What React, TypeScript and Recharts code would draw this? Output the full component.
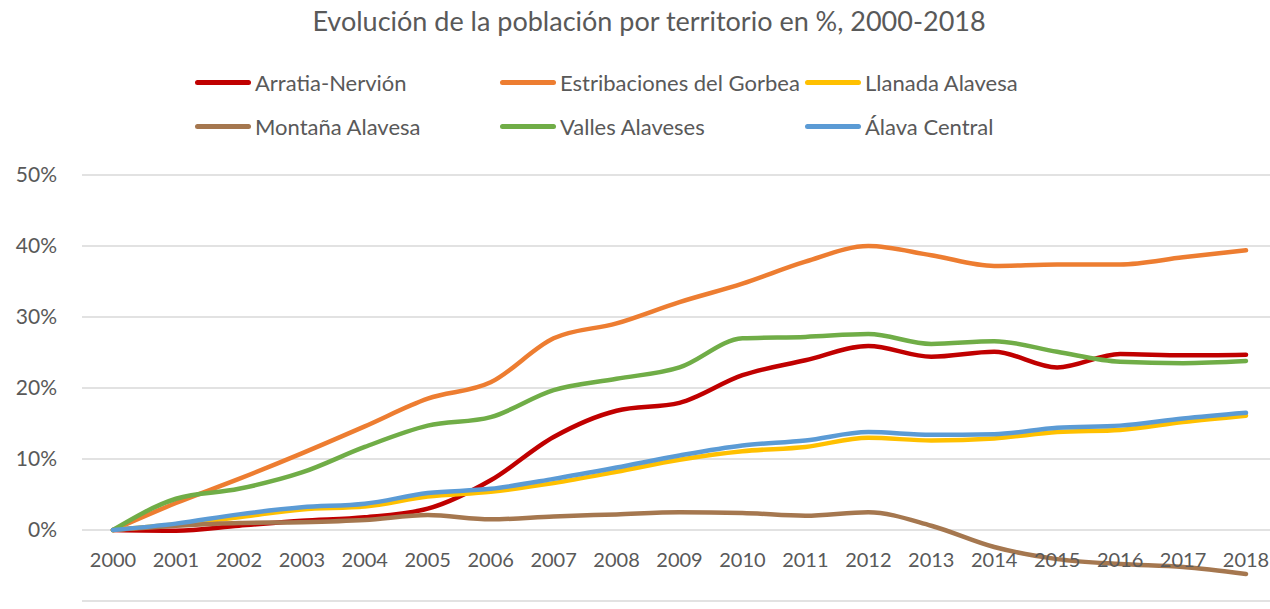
import React from "react";
import { LineChart, Line, XAxis, YAxis, CartesianGrid, Legend } from "recharts";

const years = ["2000","2001","2002","2003","2004","2005","2006","2007","2008","2009","2010","2011","2012","2013","2014","2015","2016","2017","2018"];
const arratia = [0, -0.1, 0.6, 1.3, 1.8, 3.0, 7.0, 13.1, 16.8, 17.9, 21.8, 23.9, 25.9, 24.4, 25.1, 22.9, 24.8, 24.6, 24.7];
const gorbea = [0, 3.8, 7.2, 10.8, 14.6, 18.5, 20.8, 27.0, 29.1, 32.1, 34.7, 37.8, 40.0, 38.7, 37.2, 37.4, 37.4, 38.4, 39.4];
const llanada = [0, 0.8, 1.8, 2.9, 3.3, 4.7, 5.4, 6.6, 8.2, 9.9, 11.1, 11.7, 13.0, 12.6, 12.9, 13.8, 14.1, 15.2, 16.1];
const montana = [0, 0.6, 1.0, 1.1, 1.4, 2.1, 1.5, 1.9, 2.2, 2.5, 2.4, 2.0, 2.5, 0.6, -2.4, -4.1, -4.8, -5.2, -6.2];
const valles = [0, 4.4, 5.8, 8.1, 11.7, 14.7, 15.9, 19.7, 21.3, 22.9, 27.0, 27.2, 27.6, 26.2, 26.6, 25.1, 23.7, 23.5, 23.8];
const alava = [0, 0.9, 2.2, 3.2, 3.7, 5.2, 5.8, 7.2, 8.8, 10.5, 11.9, 12.6, 13.8, 13.4, 13.5, 14.4, 14.7, 15.7, 16.5];
const yTicks = [-10, 0, 10, 20, 30, 40, 50];

const seriesNames = ["Arratia-Nervión", "Estribaciones del Gorbea", "Llanada Alavesa", "Montaña Alavesa", "Valles Alaveses", "Álava Central"];
const seriesKeys = ["arratia", "gorbea", "llanada", "montana", "valles", "alava"];
const seriesColors = ["#C00000", "#ED7D31", "#FFC000", "#A5774F", "#70AD47", "#5B9BD5"];

const data = years.map((y, i) => ({
  year: y,
  arratia: arratia[i],
  gorbea: gorbea[i],
  llanada: llanada[i],
  montana: montana[i],
  valles: valles[i],
  alava: alava[i],
}));

const FONT = "Lato, 'Open Sans', sans-serif";
const TEXT = "#595959";

const LegendContent = () => (
  <div style={{ display: "flex", flexWrap: "wrap", width: 930 }}>
    {seriesKeys.map((k, i) => (
      <div key={k} style={{ width: 305, height: 44, display: "flex", alignItems: "center" }}>
        <div style={{ width: 56, height: 5, borderRadius: 3, background: seriesColors[i], marginRight: 4 }} />
        <span style={{ fontFamily: FONT, fontSize: 22, color: TEXT, whiteSpace: "nowrap" }}>{seriesNames[i]}</span>
      </div>
    ))}
  </div>
);

const XTick = (props: any) => {
  const { x, y, payload } = props;
  return (
    <text x={x} y={y - 42} textAnchor="middle" fontFamily={FONT} fontSize={20} fill={TEXT}>
      {payload.value}
    </text>
  );
};

export default function App() {
  return (
    <div style={{ position: "absolute", left: 0, top: 0, width: 1270, height: 609, background: "#fff" }}>
      <div style={{ position: "absolute", left: 0, top: 4, width: 1298, textAlign: "center", fontFamily: FONT, fontSize: 27, color: TEXT }}>
        Evolución de la población por territorio en %, 2000-2018
      </div>
      <LineChart width={1270} height={609} data={data} margin={{ top: 175, right: 0, bottom: 7, left: 0 }}>
        <CartesianGrid vertical={false} stroke="#D9D9D9" strokeWidth={1.5} />
        <XAxis dataKey="year" height={1} axisLine={false} tickLine={false} interval={0} padding={{ left: 31, right: 24 }} tick={<XTick />} />
        <YAxis
          width={82}
          domain={[-10, 50]}
          ticks={yTicks}
          axisLine={false}
          tickLine={false}
          tickMargin={19}
          tickFormatter={(v: number) => `${v}%`}
          tick={{ fontFamily: FONT, fontSize: 21, fill: TEXT }}
        />
        <Legend verticalAlign="middle" align="center" wrapperStyle={{ top: 60, left: 195, width: 930 }} content={<LegendContent />} />
        {seriesKeys.map((k, i) => (
          <Line
            key={k}
            type="monotone"
            dataKey={k}
            name={seriesNames[i]}
            stroke={seriesColors[i]}
            strokeWidth={4.5}
            dot={false}
            strokeLinecap="round"
            isAnimationActive={false}
          />
        ))}
      </LineChart>
    </div>
  );
}
